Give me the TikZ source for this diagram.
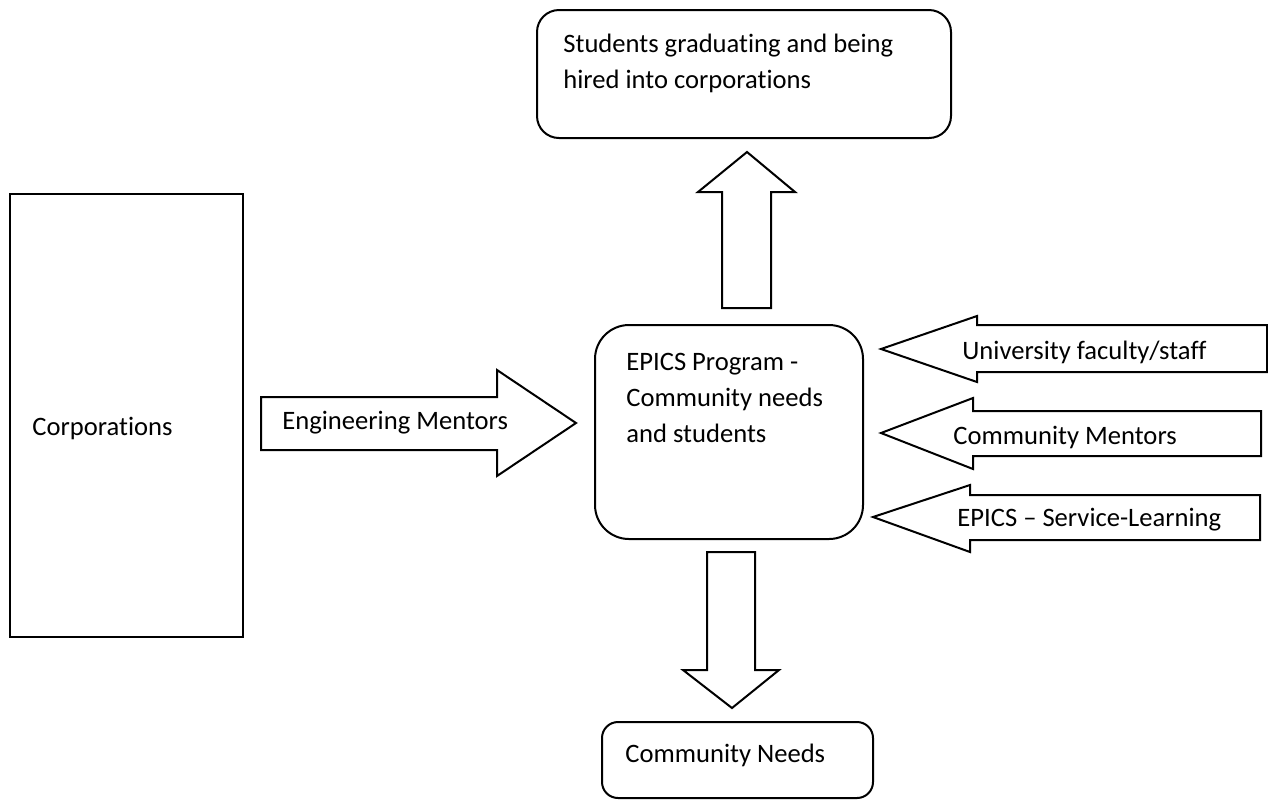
\documentclass[tikz,border=0pt]{standalone}
\usepackage{fontspec}
\setmainfont{Carlito}[Ligatures={NoCommon}]
\begin{document}
\begin{tikzpicture}[x=0.5pt,y=-0.5pt,
  outline/.style={draw=black, line width=1pt, line join=miter},
  blockarrow/.style={outline, fill=white},
  lbl/.style={anchor=base west, inner sep=0pt, font=\fontsize{13.3}{18}\selectfont}]
\useasboundingbox (0,0) rectangle (1268,800);

% boxes
\draw[outline] (10,194) rectangle (243,637);
\draw[outline, rounded corners=11pt] (537,10) rectangle (951,138);
\draw[outline, rounded corners=17pt] (595,325) rectangle (863,539);
\draw[outline, rounded corners=8pt] (602,722) rectangle (873,798);

% block arrows
\draw[blockarrow] (722,308) -- (722,192) -- (698,192) -- (747,152) -- (795,192) -- (771,192) -- (771,308) -- cycle;
\draw[blockarrow] (707,552) -- (755,552) -- (755,670) -- (779,670) -- (732,708) -- (683,670) -- (707,670) -- cycle;
\draw[blockarrow] (261,397) -- (497,397) -- (497,370) -- (576,423) -- (497,476) -- (497,450) -- (261,450) -- cycle;
\draw[blockarrow] (1267,325) -- (977,325) -- (977,316) -- (881,349) -- (977,382) -- (977,372) -- (1267,372) -- cycle;
\draw[blockarrow] (1261,411) -- (973,411) -- (973,398) -- (881,433) -- (973,469) -- (973,456) -- (1261,456) -- cycle;
\draw[blockarrow] (1260,495) -- (970,495) -- (970,485) -- (873,517) -- (970,552) -- (970,540) -- (1260,540) -- cycle;

% labels
\node[lbl] (grad1) at (563,52) {Students graduating and being};
\node[lbl] (grad2) at (563,88) {hired into corporations};
\node[lbl] (corp) at (32,435) {Corporations};
\node[lbl] (eng) at (282,429) {Engineering Mentors};
\node[lbl] (epics1) at (626,370) {EPICS Program -};
\node[lbl] (epics2) at (626,406) {Community needs};
\node[lbl] (epics3) at (626,442) {and students};
\node[lbl] (univ) at (962,359) {University faculty/staff};
\node[lbl] (cmen) at (953,444) {Community Mentors};
\node[lbl] (serv) at (957,526) {EPICS -- Service-Learning};
\node[lbl] (cneeds) at (625,762) {Community Needs};
\end{tikzpicture}
\end{document}
